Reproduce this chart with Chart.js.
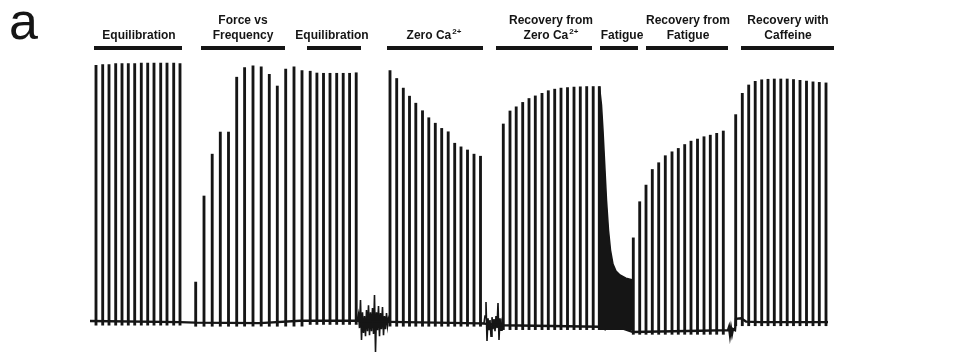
<!DOCTYPE html>
<html>
<head>
<meta charset="utf-8">
<script src="https://cdn.jsdelivr.net/npm/chart.js@4.4.1/dist/chart.umd.min.js"></script>
<style>
  html, body { margin: 0; padding: 0; background: #fff; }
</style>
</head>
<body>
<canvas id="trace" width="966" height="352"></canvas>
<script>
// force in % of initial twitch, time in s
const eq1Times = [6, 12.7, 19, 25.7, 32, 38.3, 44.7, 51.3, 57.7, 64, 70.7, 77, 83.7, 90];
const eq1Peaks = [98.8, 99.0, 99.0, 99.4, 99.4, 99.4, 99.4, 99.6, 99.6, 99.6, 99.6, 99.6, 99.6, 99.4];

const freqTimes = [105.7, 114, 122.2, 130.3, 138.5, 146.7, 154.6, 163, 171.2, 179.3, 187.3, 195.7, 204, 212];
const freqPeaks = [15.4, 48.5, 64.6, 73.1, 73.1, 94.2, 97.9, 98.6, 98.2, 95.3, 90.8, 97.3, 98.2, 96.7];

const eq2Times = [220.2, 226.9, 233.5, 240, 246.7, 253.2, 259.6, 266.2];
const eq2Peaks = [96.5, 95.8, 95.7, 95.7, 95.7, 95.7, 95.7, 95.9];

const zeroTimes = [300, 306.7, 313.3, 319.5, 325.8, 332.5, 338.8, 345.3, 351.7, 358.2, 364.7, 371, 377.5, 384, 390.5];
const zeroPeaks = [96.7, 93.7, 90.0, 86.9, 84.2, 81.3, 78.6, 76.5, 74.5, 73.2, 68.8, 67.4, 66.2, 64.6, 63.8];

const recZeroTimes = [413.3, 420, 426.2, 432.7, 439, 445.3, 452, 458.3, 464.7, 471, 477.5, 484, 490.3, 496.7, 503.2, 509.3];
const recZeroPeaks = [76.2, 81.2, 82.8, 84.5, 86.0, 87.0, 88.0, 89.0, 89.6, 90.0, 90.2, 90.4, 90.5, 90.6, 90.6, 90.6];

const recFatTimes = [543.3, 549.7, 556, 562.3, 568.7, 575.3, 582, 588.3, 594.7, 601, 607.5, 614, 620.3, 626.7, 633.3];
const recFatPeaks = [32.4, 46.3, 52.7, 58.7, 61.3, 64.0, 65.5, 66.8, 68.3, 69.6, 70.4, 71.3, 71.9, 72.6, 73.5];

const caffTimes = [645.7, 652.3, 658.7, 665.2, 671.7, 678, 684.3, 690.8, 697.2, 703.5, 710, 716.5, 723, 729.3, 736];
const caffPeaks = [79.8, 88.0, 91.2, 92.6, 93.2, 93.4, 93.5, 93.5, 93.5, 93.3, 93.0, 92.7, 92.4, 92.2, 92.0];

// resting level under each block of twitches
const spikeBase = [0.2, -0.2, 0.5, -0.2, -1.5, -3.3, 0];

// fatigue run: upper envelope of the fused twitches
const fatigueTimes = [509.5, 511.5, 513, 514.5, 516.5, 518.5, 520.5, 523, 526, 530, 536, 543];
const fatigueForce = [90.6, 83.5, 73.8, 62.3, 46.9, 35.4, 27.7, 22.3, 19.6, 18.1, 16.9, 16.2];

// resting trace
const baseTimes = [0, 90, 105, 170, 210, 267,
  300, 391,
  413, 509.5, 515, 518, 519.5, 521, 524, 530, 536, 543,
  610, 638, 639, 640, 641, 642, 643, 645, 646, 651, 656, 670, 738];
const baseForce = [0.4, 0, -0.2, -0.4, 0.5, 0.5,
  0.1, -0.5,
  -1.2, -1.8, -2.7, 0, 1.9, 0.4, -1.5, -2.1, -2.9, -3.8,
  -3.3, -3.1, -1.9, -5.0, -2.3, -4.6, -2.7, -3.1, 1.3, 1.5, 0.2, 0, 0];

// solution change artefacts
const noise1Times = [267, 268.5, 269.5, 270.5, 271.5, 272.5, 273.5, 274.5, 275.5, 276.5, 277.5, 278.5, 279.5, 280.5, 281.5,
  282.5, 283.5, 284.5, 285.5, 286.5, 287.5, 288.5, 289.5, 290.5, 291.5, 292.5, 293.5, 294.5, 295.5, 296.5, 297.5, 298.5, 300];
const noise1Force = [0.4, 3.1, -2.3, 8.5, -6.9, 3.8, -4.2, 2.3, -5.4, 4.6, -3.5, 6.5, -5.0, 3.8, -3.5,
  5.4, -4.6, 10.4, -11.5, 3.8, -3.1, 6.2, -5.4, 3.5, -2.7, 5.8, -5.0, 2.3, -2.7, 3.5, -1.5, 1.5, 0.1];
const noise2Times = [391, 394, 395, 396, 397, 398, 399, 400, 401, 402, 403, 404, 405, 406, 407, 408, 409, 410, 411, 412, 413];
const noise2Force = [-0.5, -0.4, 2.3, 7.7, -7.3, 1.5, -3.1, 0.8, -5.4, 1.9, -2.7, 1.2, -3.5, 2.3, -2.3, 7.3, -6.9, 1.5, -3.1, 0, -1.2];

// header bars over the protocol steps
const headerLines = [['Equilibration'], ['Force vs', 'Frequency'], ['Equilibration'], ['Zero Ca^2+'],
  ['Recovery from', 'Zero Ca^2+'], ['Fatigue'], ['Recovery from', 'Fatigue'], ['Recovery with', 'Caffeine']];
const headerStart = [4, 111, 217, 297, 406, 510, 556, 651];
const headerEnd = [92, 195, 271, 393, 502, 548, 638, 744];
const headerTextAt = [49, 153, 242, 344, 461, 532, 598, 698];

const ink = '#151515';
const dip = 1.4;

const spikeSets = [
  [eq1Times, eq1Peaks], [freqTimes, freqPeaks], [eq2Times, eq2Peaks], [zeroTimes, zeroPeaks],
  [recZeroTimes, recZeroPeaks], [recFatTimes, recFatPeaks], [caffTimes, caffPeaks]
];
const spikes = [];
spikeSets.forEach(function(set, k) {
  set[0].forEach(function(t, i) {
    spikes.push({ x: t, y: [spikeBase[k] - dip, set[1][i]] });
  });
});

function pts(times, vals) {
  return times.map(function(t, i) { return { x: t, y: vals[i] }; });
}

function drawLine(ctx, text, cx, y) {
  const parts = text.split('^');
  ctx.font = 'bold 12px "Liberation Sans", Arial, sans-serif';
  const w1 = ctx.measureText(parts[0]).width;
  let w2 = 0;
  if (parts[1]) {
    ctx.font = 'bold 8px "Liberation Sans", Arial, sans-serif';
    w2 = ctx.measureText(parts[1]).width + 1;
  }
  const x0 = cx - (w1 + w2) / 2;
  ctx.textAlign = 'left';
  ctx.textBaseline = 'alphabetic';
  ctx.font = 'bold 12px "Liberation Sans", Arial, sans-serif';
  ctx.fillText(parts[0], x0, y);
  if (parts[1]) {
    ctx.font = 'bold 8px "Liberation Sans", Arial, sans-serif';
    ctx.fillText(parts[1], x0 + w1 + 1, y - 5);
  }
}

const headerPlugin = {
  id: 'headers',
  beforeDraw: function(chart) {
    const ctx = chart.ctx;
    ctx.save();
    ctx.fillStyle = '#fff';
    ctx.fillRect(0, 0, chart.width, chart.height);
    ctx.restore();
  },
  afterDraw: function(chart) {
    const ctx = chart.ctx;
    const xs = chart.scales.x;
    ctx.save();
    ctx.fillStyle = ink;
    headerLines.forEach(function(lines, i) {
      const a = xs.getPixelForValue(headerStart[i]);
      const b = xs.getPixelForValue(headerEnd[i]);
      ctx.fillRect(a, 46, b - a, 4);
      const cx = xs.getPixelForValue(headerTextAt[i]);
      if (lines.length === 2) {
        drawLine(ctx, lines[0], cx, 24);
        drawLine(ctx, lines[1], cx, 38.5);
      } else {
        drawLine(ctx, lines[0], cx, 38.5);
      }
    });
    ctx.font = '52px "Liberation Sans", Arial, sans-serif';
    ctx.textAlign = 'left';
    ctx.fillText('a', 9, 38.5);
    ctx.restore();
  }
};

const lineStyle = { type: 'line', borderColor: ink, pointRadius: 0, tension: 0, fill: false };

new Chart(document.getElementById('trace'), {
  type: 'bar',
  data: {
    datasets: [
      Object.assign({}, lineStyle, { label: 'Fatigue', data: pts(fatigueTimes, fatigueForce), borderWidth: 1.5,
        fill: { value: -3 }, backgroundColor: ink }),
      Object.assign({}, lineStyle, { label: 'Resting', data: pts(baseTimes, baseForce), borderWidth: 2.4 }),
      Object.assign({}, lineStyle, { label: 'Artefact 1', data: pts(noise1Times, noise1Force), borderWidth: 1.6 }),
      Object.assign({}, lineStyle, { label: 'Artefact 2', data: pts(noise2Times, noise2Force), borderWidth: 1.6 }),
      {
        label: 'Twitch',
        data: spikes,
        backgroundColor: ink,
        borderWidth: 0,
        barThickness: 2.2
      }
    ]
  },
  options: {
    responsive: false,
    animation: false,
    layout: { padding: { top: 40, left: 0, right: 0, bottom: 0 } },
    plugins: { legend: { display: false }, tooltip: { enabled: false } },
    scales: {
      x: { type: 'linear', min: -90, max: 876, offset: false, display: false },
      y: { min: -11.5, max: 108.5, display: false }
    }
  },
  plugins: [headerPlugin]
});
</script>
</body>
</html>
